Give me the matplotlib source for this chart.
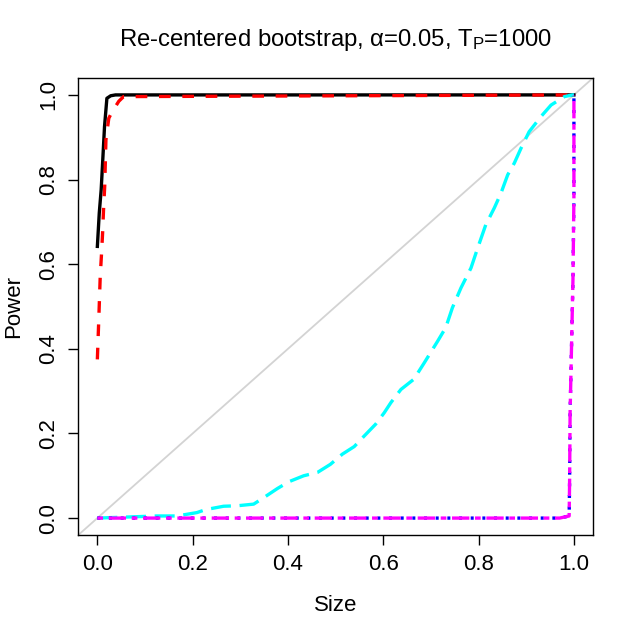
import matplotlib
matplotlib.use("Agg")
import matplotlib.pyplot as plt

plt.rcParams['font.family'] = ['Liberation Sans', 'DejaVu Sans']
plt.rcParams['mathtext.fontset'] = 'custom'
plt.rcParams['mathtext.rm'] = 'Liberation Sans'
plt.rcParams['mathtext.it'] = 'Liberation Sans:italic'

# power curves (size, power)
black_size = [0.0, 0.004, 0.008, 0.011, 0.015, 0.020, 0.028, 0.038, 1.0]
black_power = [0.642, 0.721, 0.776, 0.839, 0.925, 0.992, 0.998, 1.0, 1.0]

red_size = [0.0, 0.003, 0.006, 0.009, 0.011, 0.013, 0.0154, 0.018, 0.024, 0.030, 0.036, 0.045, 0.055, 1.0]
red_power = [0.375, 0.47, 0.571, 0.63, 0.674, 0.73, 0.784, 0.894, 0.945, 0.958, 0.969, 0.985, 0.996, 1.0]

cyan_size = [0.0, 0.125, 0.167, 0.209, 0.227, 0.265, 0.293, 0.328, 0.350, 0.378, 0.402,
             0.433, 0.462, 0.489, 0.514, 0.539, 0.560, 0.584, 0.602, 0.616, 0.637, 0.664,
             0.686, 0.714, 0.731, 0.745, 0.763, 0.784, 0.798, 0.815, 0.833, 0.847, 0.861,
             0.875, 0.889, 0.906, 0.931, 0.952, 0.980, 0.997, 1.0]
cyan_power = [0.0, 0.005, 0.005, 0.013, 0.020, 0.028, 0.029, 0.033, 0.049, 0.070, 0.086,
              0.100, 0.108, 0.127, 0.151, 0.169, 0.194, 0.222, 0.249, 0.273, 0.304, 0.328,
              0.367, 0.418, 0.450, 0.497, 0.544, 0.591, 0.638, 0.693, 0.733, 0.768, 0.811,
              0.839, 0.874, 0.913, 0.949, 0.976, 0.996, 1.0, 1.0]

low_size = [0.0, 0.970, 0.990, 0.991, 0.992, 0.995, 0.998, 1.0, 1.0]
low_power = [0.0, 0.0, 0.005, 0.092, 0.249, 0.406, 0.564, 0.760, 1.0]

xticks = [0.0, 0.2, 0.4, 0.6, 0.8, 1.0]
yticks = [0.0, 0.2, 0.4, 0.6, 0.8, 1.0]

fig = plt.figure(figsize=(6.34, 6.33), dpi=100)
ax = fig.add_axes([0.1235, 0.1548, 0.8118, 0.722])

lw = 2.4
ax.plot([-0.1, 1.1], [-0.1, 1.1], color='#d3d3d3', lw=1.3)
ax.plot(black_size, black_power, color='black', lw=lw)
ax.plot(red_size, red_power, color='red', lw=lw, dashes=(3.5, 3.5))
ax.plot(cyan_size, cyan_power, color='cyan', lw=lw, dashes=(6, 2.6))
ax.plot(low_size, low_power, color='blue', lw=lw, dashes=(0.9, 2.6))
ax.plot(low_size, low_power, color='magenta', lw=lw, dashes=(1.7, 1.7, 5.2, 1.7))

ax.set_xlim(-0.04, 1.04)
ax.set_ylim(-0.04, 1.04)
ax.set_xticks(xticks)
ax.set_xticklabels(['%.1f' % v for v in xticks])
ax.set_yticks(yticks)
ax.set_yticklabels(['%.1f' % v for v in yticks], rotation=90, va='center')
ax.tick_params(direction='out', length=7, width=1, labelsize=16, pad=7)
for s in ax.spines.values():
    s.set_linewidth(1)

ax.set_xlabel('Size', fontsize=16, labelpad=14)
ax.set_ylabel('Power', fontsize=16, labelpad=10)
ax.set_title('Re-centered bootstrap, α=0.05, T$_\\mathrm{P}$=1000', fontsize=17.2, pad=23)

fig.savefig('out.png', dpi=100)
